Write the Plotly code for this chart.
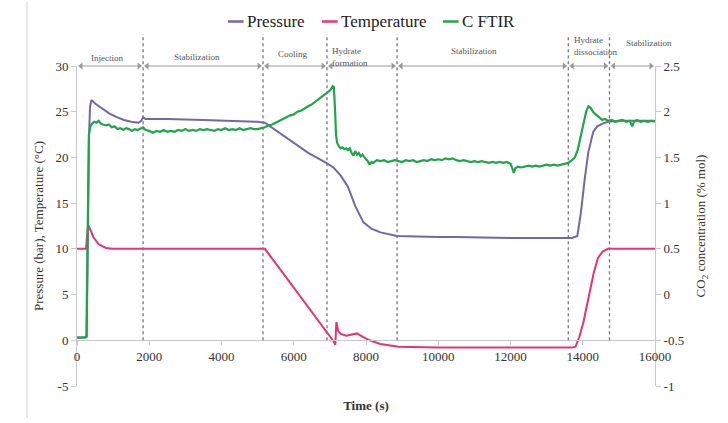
import plotly.graph_objects as go

# ---------------- data ----------------
p_time = [0, 250, 270, 300, 330, 360, 400, 500, 700, 900, 1100, 1300, 1500, 1700, 1780, 1830, 1900,
          2500, 3500, 4500, 5000, 5200, 5600, 6000, 6400, 6900, 7100, 7300, 7500, 7700, 7930, 8150,
          8400, 8860, 9500, 10000, 10500, 11000, 11500, 12000, 12500, 13000, 13500, 13700, 13850,
          13950, 14050, 14150, 14290, 14400, 14550, 14700, 15000, 15500, 16000]
pressure = [0.3, 0.3, 0.4, 14.0, 22.0, 25.5, 26.3, 25.9, 25.3, 24.8, 24.4, 24.1, 23.9, 23.8, 24.0, 24.4, 24.2,
            24.2, 24.1, 24.0, 23.9, 23.8, 22.7, 21.6, 20.5, 19.4, 18.9, 18.0, 16.8, 14.7, 12.9, 12.2,
            11.8, 11.4, 11.3, 11.3, 11.3, 11.25, 11.2, 11.2, 11.2, 11.2, 11.2, 11.2, 11.4,
            14.0, 17.5, 20.5, 22.8, 23.4, 23.7, 23.9, 24.0, 24.0, 24.0]

t_time = [0, 250, 280, 310, 350, 450, 600, 800, 1000, 5200, 5600, 6200, 6800, 7100, 7150, 7180, 7230,
          7300, 7450, 7600, 7750, 7900, 8100, 8400, 8900, 10000, 13700, 13800, 13900, 14020, 14150,
          14300, 14420, 14550, 14700, 16000]
temperature = [10.0, 10.0, 11.5, 12.6, 12.3, 11.3, 10.5, 10.1, 10.0, 10.0, 7.9, 4.7, 1.4, -0.1, -0.5, 2.0, 1.0,
               0.7, 0.5, 0.6, 0.75, 0.4, 0.0, -0.4, -0.7, -0.8, -0.8, -0.7, 0.3, 2.0, 4.5,
               7.3, 9.0, 9.7, 10.0, 10.0]

c_time = [0, 200, 260, 280, 300, 330, 370, 420, 480, 540, 600, 660, 720, 800, 880, 960, 1040, 1120,
          1200, 1280, 1360, 1440, 1520, 1600, 1680, 1760, 1830, 1900, 2000, 2100, 2200, 2300, 2400,
          2500, 2600, 2700, 2800, 2900, 3000, 3100, 3200, 3300, 3400, 3500, 3600, 3700, 3800, 3900,
          4000, 4100, 4200, 4300, 4400, 4500, 4600, 4700, 4800, 4900, 5000, 5100, 5200, 5300, 5400,
          5500, 5600, 5700, 5800, 5900, 6000, 6100, 6200, 6300, 6400, 6500, 6600, 6700, 6800, 6900,
          6960, 7020, 7080, 7110, 7140, 7170, 7200, 7250, 7300, 7350, 7400, 7450, 7500, 7550, 7600,
          7650, 7700, 7750, 7800, 7850, 7900, 7950, 8000, 8050, 8100, 8150, 8200, 8300, 8400, 8500,
          8600, 8700, 8800, 8900, 9000, 9100, 9200, 9300, 9400, 9500, 9600, 9700, 9800, 9900, 10000,
          10100, 10200, 10300, 10400, 10500, 10600, 10700, 10800, 10900, 11000, 11100, 11200, 11300,
          11400, 11500, 11600, 11700, 11800, 11900, 12000, 12050, 12090, 12130, 12200, 12300, 12400,
          12500, 12600, 12700, 12800, 12900, 13000, 13100, 13200, 13300, 13400, 13500, 13600, 13700,
          13780, 13860, 13940, 14020, 14100, 14160, 14220, 14300, 14380, 14460, 14540, 14620, 14700,
          14800, 14900, 15000, 15100, 15200, 15300, 15370, 15420, 15500, 15600, 15700, 15800, 15900,
          16000]
co2 = [-0.47, -0.47, -0.46, 0.30, 1.20, 1.75, 1.84, 1.87, 1.89, 1.88, 1.90, 1.87, 1.86, 1.85, 1.86, 1.83, 1.84, 1.81,
       1.82, 1.80, 1.82, 1.81, 1.79, 1.81, 1.80, 1.82, 1.83, 1.80, 1.79, 1.77, 1.79, 1.78, 1.80,
       1.78, 1.79, 1.78, 1.80, 1.79, 1.81, 1.79, 1.80, 1.79, 1.81, 1.80, 1.81, 1.80, 1.79, 1.81,
       1.80, 1.82, 1.80, 1.81, 1.80, 1.82, 1.80, 1.81, 1.82, 1.81, 1.81, 1.82, 1.83, 1.85, 1.86,
       1.88, 1.90, 1.92, 1.94, 1.96, 1.97, 2.00, 2.01, 2.04, 2.06, 2.08, 2.11, 2.13, 2.16, 2.20,
       2.22, 2.24, 2.28, 2.27, 2.05, 1.75, 1.66, 1.62, 1.60, 1.61, 1.59, 1.60, 1.58, 1.60, 1.55,
       1.52, 1.57, 1.53, 1.55, 1.51, 1.53, 1.50, 1.48, 1.46, 1.42, 1.45, 1.44, 1.47, 1.46, 1.47,
       1.45, 1.46, 1.47, 1.46, 1.45, 1.47, 1.46, 1.47, 1.45, 1.46, 1.47, 1.46, 1.48, 1.47, 1.48,
       1.47, 1.49, 1.48, 1.49, 1.47, 1.46, 1.47, 1.46, 1.45, 1.46, 1.45, 1.46, 1.45,
       1.44, 1.45, 1.44, 1.45, 1.44, 1.45, 1.43, 1.38, 1.33, 1.38, 1.40, 1.39, 1.40,
       1.41, 1.40, 1.41, 1.40, 1.41, 1.42, 1.41, 1.42, 1.41, 1.42, 1.43, 1.44, 1.47,
       1.50, 1.58, 1.72, 1.88, 2.01, 2.06, 2.04, 1.99, 1.96, 1.93, 1.91, 1.92, 1.90,
       1.91, 1.89, 1.90, 1.91, 1.89, 1.90, 1.84, 1.89, 1.91, 1.89, 1.90, 1.89, 1.90,
       1.89]

phase_names = ["Injection", "Stabilization", "Cooling", "Hydrate<br>formation", "Stabilization",
               "Hydrate<br>dissociation", "Stabilization"]
phase_bounds = [0, 1830, 5150, 6920, 8860, 13600, 14740, 16000]

x_ticks = [0, 2000, 4000, 6000, 8000, 10000, 12000, 14000, 16000]
x_ticktext = ["0", "2000", "4000", "6000", "8000", "10000", "12000", "14000", "16000"]
y_ticks = [-5, 0, 5, 10, 15, 20, 25, 30]
y_ticktext = ["-5", "0", "5", "10", "15", "20", "25", "30"]
y2_ticks = [-1, -0.5, 0, 0.5, 1, 1.5, 2, 2.5]
y2_ticktext = ["-1", "-0.5", "0", "0.5", "1", "1.5", "2", "2.5"]

series_names = ["Pressure", "Temperature", "C FTIR"]
colors = ["#7565aa", "#e8336e", "#1fa64a"]

# ---------------- figure ----------------
SERIF = "Liberation Serif, Times New Roman, serif"
fig = go.Figure()
fig.add_trace(go.Scatter(x=p_time, y=pressure, mode="lines", name=series_names[0],
                         line=dict(color=colors[0], width=2)))
fig.add_trace(go.Scatter(x=t_time, y=temperature, mode="lines", name=series_names[1],
                         line=dict(color=colors[1], width=2)))
fig.add_trace(go.Scatter(x=c_time, y=co2, mode="lines", name=series_names[2], yaxis="y2",
                         line=dict(color=colors[2], width=2.2)))

# phase separators (dotted)
for b in phase_bounds[1:-1]:
    fig.add_shape(type="line", xref="x", yref="paper", x0=b, x1=b, y0=5 / 35, y1=1.1,
                  line=dict(color="#777", width=1.3, dash="dot"))

# phase arrows (shaft as shape, heads as markers) and labels
gap = 110
head_x, head_sym = [], []
label_x = [830, 3320, 5980, 7010, 11000, 13710, 15820]
label_anchor = ["center", "center", "center", "left", "center", "left", "center"]
label_y = [1.024, 1.027, 1.036, 1.029, 1.048, 1.061, 1.073]
for i, name in enumerate(phase_names):
    x0 = phase_bounds[i] + gap
    x1 = phase_bounds[i + 1] - gap
    fig.add_shape(type="line", xref="x", yref="paper", x0=x0, x1=x1, y0=1, y1=1,
                  line=dict(color="#9a9a9a", width=1))
    head_x += [x0, x1]
    head_sym += ["triangle-left", "triangle-right"]
    fig.add_annotation(x=label_x[i], y=label_y[i], xref="x", yref="paper", text=name,
                       showarrow=False, xanchor=label_anchor[i], yanchor="middle", align="left",
                       font=dict(family=SERIF, size=9, color="#555"))
fig.add_trace(go.Scatter(x=head_x, y=[30] * len(head_x), mode="markers", cliponaxis=False,
                         hoverinfo="skip", showlegend=False,
                         marker=dict(symbol=head_sym, size=6, color="#9a9a9a")))

# legend drawn as coloured line swatch + name
legend_dash_x = [0.2612, 0.4239, 0.6332]
legend_name_x = [0.2907, 0.4533, 0.6626]
LEG_Y = 1.139
for i, name in enumerate(series_names):
    fig.add_shape(type="line", xref="paper", yref="paper", x0=legend_dash_x[i],
                  x1=legend_dash_x[i] + 0.027, y0=LEG_Y, y1=LEG_Y,
                  line=dict(color=colors[i], width=2.5))
    fig.add_annotation(x=legend_name_x[i], y=LEG_Y, xref="paper", yref="paper", xanchor="left",
                       yanchor="middle", showarrow=False, text=name,
                       font=dict(family=SERIF, size=17, color="#222"))

# left frame line
fig.add_shape(type="line", xref="paper", yref="paper", x0=-0.0865, x1=-0.0865, y0=-0.1, y1=1.2,
              line=dict(color="#d0d0d0", width=1))

axis_font = dict(family=SERIF, size=13, color="#333")
fig.update_layout(
    width=728, height=423,
    margin=dict(l=77, r=73, t=66, b=27),
    plot_bgcolor="white", paper_bgcolor="white",
    showlegend=False,
    font=dict(family=SERIF, color="#333"),
    xaxis=dict(range=[0, 16000], anchor="free", position=5 / 35, tickvals=x_ticks, ticktext=x_ticktext,
               showgrid=False, zeroline=False, showline=True, linecolor="#c8c8c8", linewidth=1,
               ticks="outside", ticklen=4, tickcolor="#c8c8c8", tickfont=axis_font,
               title=dict(text="<b>Time (s)</b>", font=dict(family=SERIF, size=13, color="#333"),
                          standoff=38)),
    yaxis=dict(range=[-5, 30], tickvals=y_ticks, ticktext=y_ticktext, showgrid=False, zeroline=False,
               showline=True, linecolor="#c8c8c8", ticks="outside", ticklen=5, tickcolor="#c8c8c8",
               tickfont=axis_font,
               title=dict(text="Pressure (bar), Temperature (\u00b0C)",
                          font=dict(family=SERIF, size=13, color="#333"), standoff=8)),
    yaxis2=dict(range=[-1, 2.5], tickvals=y2_ticks, ticktext=y2_ticktext, overlaying="y", side="right",
                showgrid=False, zeroline=False, showline=True, linecolor="#c8c8c8", ticks="outside",
                ticklen=5, tickcolor="#c8c8c8", tickfont=axis_font,
                title=dict(text="CO<sub>2</sub> concentration (% mol)",
                           font=dict(family=SERIF, size=13, color="#333"), standoff=12)),
)

fig.write_html("out.html", config={"displayModeBar": False},
               post_script="document.body.style.margin='0';")
